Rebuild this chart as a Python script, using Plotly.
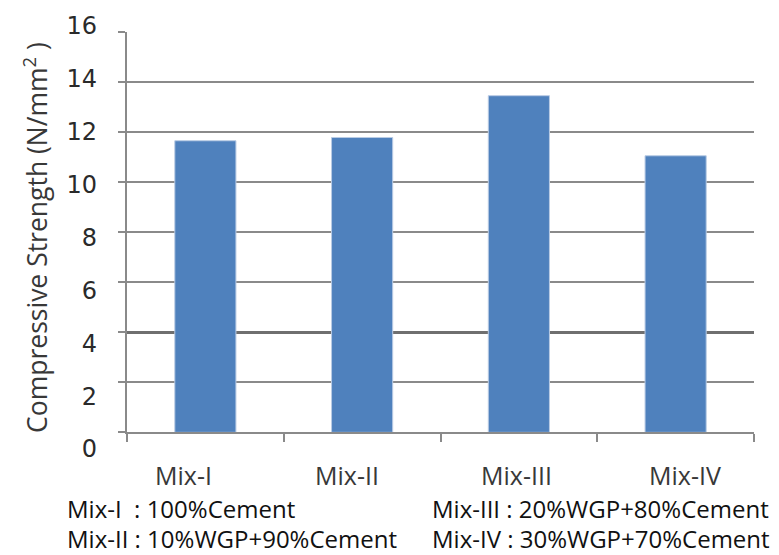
import plotly.graph_objects as go

# Compressive strength of the four mixes (N/mm²)
mixes = ["Mix-I", "Mix-II", "Mix-III", "Mix-IV"]
strength = [11.65, 11.78, 13.45, 11.05]

# Value axis ticks
y_ticks = [0, 2, 4, 6, 8, 10, 12, 14, 16]

# Mix composition notes printed under the chart
notes_left = ["Mix-I  : 100%Cement", "Mix-II : 10%WGP+90%Cement"]
notes_right = ["Mix-III : 20%WGP+80%Cement", "Mix-IV : 30%WGP+70%Cement"]

AXIS_GREY = "#8a8a8a"
TEXT_GREY = "#383838"
BAR_BLUE = "#4F81BD"

fig = go.Figure()

fig.add_trace(go.Bar(
    x=mixes, y=strength,
    marker=dict(color=BAR_BLUE, line=dict(color="#b9cbe4", width=1)),
    width=0.39,
    xaxis="x", yaxis="y",
    hoverinfo="x+y",
))

# carrier traces so the label axis and the emphasis-grid axis get drawn
fig.add_trace(go.Scatter(x=[mixes[0]], y=[None], yaxis="y2", mode="markers",
                         showlegend=False, hoverinfo="skip"))
fig.add_trace(go.Scatter(x=[mixes[0]], y=[None], yaxis="y3", mode="markers",
                         showlegend=False, hoverinfo="skip"))

# category names, each nudged slightly under its bar
name_shift = [-22, -15, -2, 9]
for m, dx in zip(mixes, name_shift):
    fig.add_annotation(x=m, xref="x", y=-0.062, yref="paper", text=m,
                       showarrow=False, xshift=dx, yanchor="middle",
                       font=dict(family="Open Sans", size=25, color=TEXT_GREY))

# composition notes, two columns of two lines
note_y = [-0.1412, -0.2106]
for txt, yy in zip(notes_left, note_y):
    fig.add_annotation(x=-0.0989, xref="paper", y=yy, yref="paper", text=txt,
                       showarrow=False, xanchor="left", yanchor="middle",
                       font=dict(family="Open Sans", size=24, color="#111111"))
for txt, yy in zip(notes_right, note_y):
    fig.add_annotation(x=0.4833, xref="paper", y=yy, yref="paper", text=txt,
                       showarrow=False, xanchor="left", yanchor="middle",
                       font=dict(family="Open Sans", size=24, color="#111111"))

fig.update_layout(
    width=779, height=555,
    margin=dict(l=127, r=25, t=17, b=106),
    paper_bgcolor="white", plot_bgcolor="rgba(0,0,0,0)",
    showlegend=False,
    xaxis=dict(
        type="category", categoryorder="array", categoryarray=mixes,
        showticklabels=False, tickson="boundaries",
        ticks="outside", ticklen=8, tickcolor=AXIS_GREY, tickwidth=1.5,
        showline=True, linecolor=AXIS_GREY, linewidth=1.5,
        showgrid=False, zeroline=False, anchor="y",
    ),
    yaxis=dict(
        domain=[0.0394, 0.9861], range=[0, 16], tickvals=y_ticks,
        showticklabels=False, ticks="outside", ticklen=7,
        tickcolor=AXIS_GREY, tickwidth=1.5,
        showline=True, linecolor=AXIS_GREY, linewidth=1.5,
        showgrid=True, gridcolor=AXIS_GREY, gridwidth=1.5,
        zeroline=False, anchor="x",
    ),
    yaxis2=dict(
        domain=[0, 1], range=[0, 16], tickvals=y_ticks,
        anchor="free", position=0, side="left",
        showline=False, showgrid=False, zeroline=False, ticks="",
        ticklabelstandoff=30,
        tickfont=dict(family="DejaVu Sans", size=24, color="#2a2a2a"),
        title=dict(text="Compressive Strength (N/mm<sup>2</sup> )",
                   font=dict(family="Open Sans", size=26.5, color=TEXT_GREY),
                   standoff=10),
    ),
    yaxis3=dict(
        overlaying="y", range=[0, 16], tickvals=[4],
        showticklabels=False, ticks="", showline=False, zeroline=False,
        showgrid=True, gridcolor="#6f6f6f", gridwidth=2.5, anchor="x",
    ),
)

fig.write_html("out.html")
